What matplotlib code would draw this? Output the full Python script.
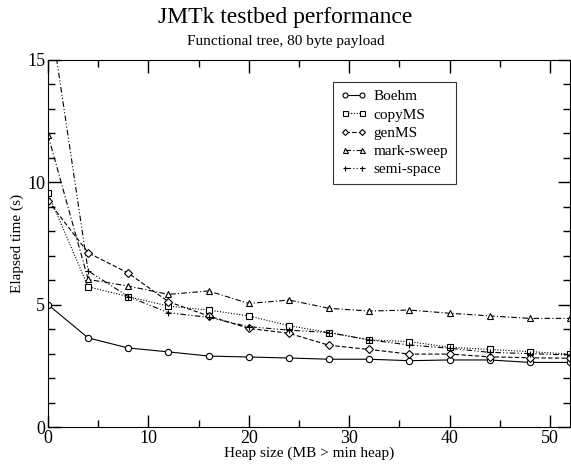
import numpy as np
import matplotlib
matplotlib.use('Agg')
import matplotlib.pyplot as plt
from matplotlib.ticker import MultipleLocator

matplotlib.rcParams['font.family'] = 'Liberation Serif'
matplotlib.rcParams['mathtext.fontset'] = 'stix'

heap = [0, 4, 8, 12, 16, 20, 24, 28, 32, 36, 40, 44, 48, 52]

boehm = [5.0, 3.64, 3.23, 3.07, 2.90, 2.86, 2.82, 2.77, 2.77, 2.71, 2.74, 2.74, 2.64, 2.64]
copyms = [9.55, 5.73, 5.33, 4.94, 4.78, 4.54, 4.14, 3.86, 3.56, 3.49, 3.26, 3.17, 3.08, 2.98]
genms = [9.25, 7.12, 6.29, 5.12, 4.54, 4.03, 3.83, 3.34, 3.17, 2.98, 2.98, 2.87, 2.83, 2.81]
marksweep = [11.93, 6.03, 5.76, 5.42, 5.56, 5.05, 5.19, 4.85, 4.74, 4.78, 4.65, 4.54, 4.44, 4.44]
semispace = [17.4, 6.38, 5.33, 4.67, 4.48, 4.10, 3.96, 3.86, 3.56, 3.35, 3.22, 3.05, 3.00, 2.94]

series = [
    ('Boehm', boehm, '-', 'o'),
    ('copyMS', copyms, (0, (1, 1.5)), 's'),
    ('genMS', genms, (0, (4, 2)), 'D'),
    ('mark-sweep', marksweep, (0, (5, 2, 1, 2)), '^'),
    ('semi-space', semispace, (0, (5, 2, 1, 2, 1, 2)), '+'),
]

fig = plt.figure(figsize=(5.71, 4.66), dpi=100)
ax = fig.add_axes([48/571, 1-427/466, 522/571, 367/466])

for name, vals, ls, mk in series:
    ms = 4.5 if mk != 'D' else 3.8
    ax.plot(heap, vals, color='black', ls=ls, lw=0.8, marker=mk, ms=ms,
            mfc='white', mec='black', mew=0.8, label=name)

ax.set_xlim(0, 52)
ax.set_ylim(0, 15)
ax.xaxis.set_major_locator(MultipleLocator(10))
ax.xaxis.set_minor_locator(MultipleLocator(5))
ax.yaxis.set_major_locator(MultipleLocator(5))
ax.yaxis.set_minor_locator(MultipleLocator(1))
ax.tick_params(which='both', direction='in', top=True, right=True, labelsize=13, pad=2)
ax.tick_params(which='major', length=9, width=1)
ax.tick_params(which='minor', length=5, width=1)

ax.set_xlabel('Heap size (MB > min heap)', fontsize=11, labelpad=0)
ax.set_ylabel('Elapsed time (s)', fontsize=11, labelpad=2)

fig.text(0.5, 1-18/466, 'JMTk testbed performance', ha='center', va='center', fontsize=17)
fig.text(0.5, 1-42/466, 'Functional tree, 80 byte payload', ha='center', va='center', fontsize=11)

leg = ax.legend(loc='upper left', bbox_to_anchor=((333-48)/522, (427-82)/367),
                fontsize=11, numpoints=2, handlelength=1.7, handletextpad=0.45,
                labelspacing=0.3, fancybox=False, edgecolor='black',
                borderpad=0.5, borderaxespad=0, markerscale=0.8)
leg.get_frame().set_linewidth(0.8)

fig.savefig('out.png', dpi=100)
